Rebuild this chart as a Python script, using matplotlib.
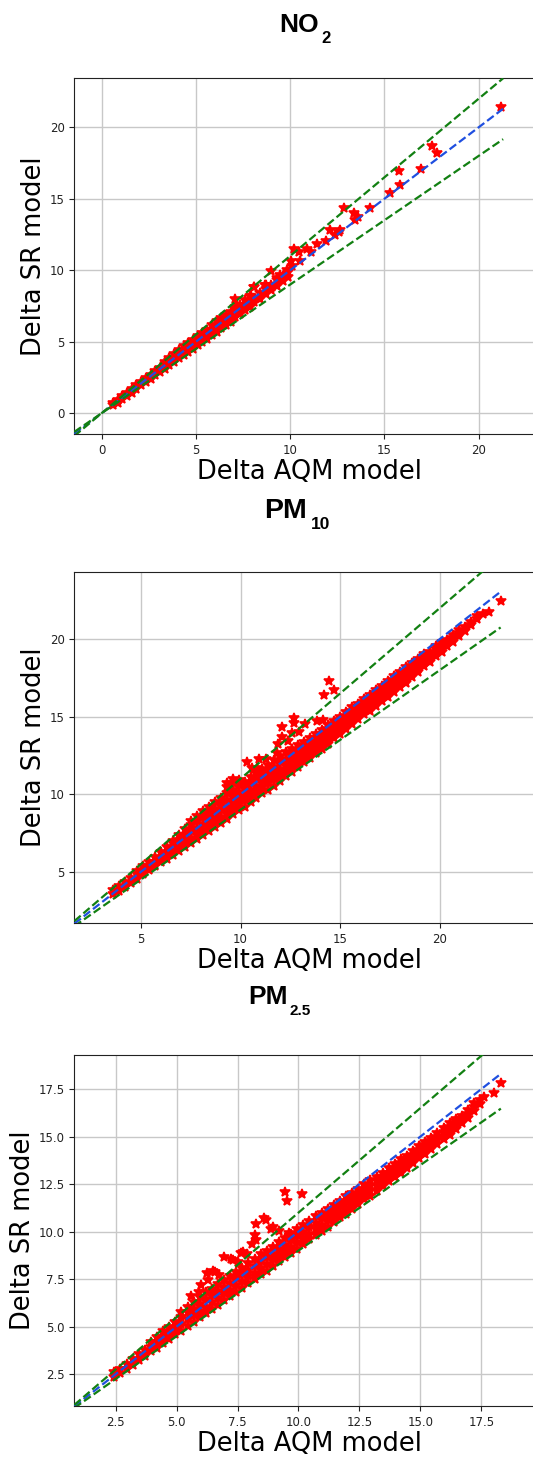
import matplotlib
matplotlib.use("Agg")
import matplotlib.pyplot as plt

# ---- data ----------------------------------------------------------------
# dense band: (Delta AQM, [Delta SR values at that AQM])
no2_band = [
    (0.6, [0.6, 0.75]), (0.85, [0.75, 0.95]), (1.1, [1.0, 1.2]), (1.35, [1.2, 1.45]),
    (1.6, [1.45, 1.7]), (1.85, [1.7, 1.95]), (2.1, [1.95, 2.2]), (2.35, [2.2, 2.45]),
    (2.6, [2.4, 2.7]), (2.85, [2.65, 2.95]), (3.1, [2.9, 3.2]), (3.35, [3.1, 3.45, 3.6]),
    (3.6, [3.35, 3.7, 3.9]), (3.85, [3.6, 3.9, 4.15]), (4.1, [3.85, 4.15, 4.4]),
    (4.35, [4.05, 4.4, 4.7]), (4.6, [4.3, 4.65, 4.9]), (4.85, [4.5, 4.85, 5.15]),
    (5.1, [4.75, 5.1, 5.4]), (5.35, [4.95, 5.3, 5.6]), (5.6, [5.2, 5.55, 5.85]),
    (5.85, [5.45, 5.8, 6.15]), (6.1, [5.7, 6.05, 6.45]), (6.35, [5.95, 6.3, 6.65]),
    (6.6, [6.2, 6.55, 6.9]), (6.85, [6.4, 6.8, 7.1]), (7.1, [6.7, 7.05, 7.4, 8.0]),
    (7.35, [6.95, 7.3, 7.6]), (7.6, [7.2, 7.55, 7.9]), (7.85, [7.45, 7.8, 8.2]),
    (8.1, [7.75, 8.05, 8.85]), (8.4, [8.0, 8.4]), (8.7, [8.35, 8.7, 8.95]),
    (9.0, [8.65, 8.95]), (9.3, [8.9, 9.3, 9.45]), (9.6, [9.25, 9.6]), (9.9, [9.55, 9.85]),
]
no2_extra_x = [21.2, 17.51, 17.79, 16.96, 15.78, 15.85, 15.32, 14.26, 12.88, 13.37, 13.62,
               13.46, 12.65, 12.1, 12.36, 12.6, 11.89, 11.41, 10.91, 10.22, 10.49, 11.09,
               10.52, 10.05, 10.08, 9.82, 8.97, 9.46, 7.92, 8.1, 8.67, 9.03, 9.4]
no2_extra_y = [21.4, 18.71, 18.22, 17.1, 16.92, 15.97, 15.41, 14.38, 14.36, 14.0, 13.73,
               13.5, 12.84, 12.84, 12.45, 12.7, 12.03, 11.86, 11.51, 11.47, 11.28, 11.28,
               10.63, 10.67, 10.28, 10.04, 9.97, 9.69, 8.22, 8.85, 8.97, 8.81, 9.32]

pm10_band = [
    (3.6, [3.55, 3.8]), (3.9, [3.75, 4.05]), (4.2, [4.0, 4.35]), (4.5, [4.3, 4.6]),
    (4.8, [4.55, 4.85, 5.05]), (5.1, [4.85, 5.1, 5.35]), (5.4, [5.1, 5.4, 5.65]),
    (5.7, [5.35, 5.65, 5.95]), (6.0, [5.6, 5.9, 6.25]), (6.3, [5.85, 6.2, 6.6]),
    (6.6, [6.1, 6.45, 6.85, 7.0]), (6.9, [6.35, 6.7, 7.05, 7.35]),
    (7.2, [6.6, 6.95, 7.35, 7.75]), (7.5, [6.85, 7.2, 7.6, 8.0, 8.3]),
    (7.8, [7.1, 7.45, 7.85, 8.25, 8.6]), (8.1, [7.35, 7.7, 8.1, 8.5, 8.9]),
    (8.4, [7.6, 8.0, 8.4, 8.8, 9.2]), (8.7, [7.9, 8.25, 8.65, 9.05, 9.5]),
    (9.0, [8.15, 8.55, 8.95, 9.35, 9.75]), (9.3, [8.4, 8.8, 9.2, 9.6, 10.1, 10.45]),
    (9.6, [8.7, 9.1, 9.5, 9.9, 10.3, 10.75]), (9.9, [8.95, 9.35, 9.75, 10.15, 10.6, 10.9]),
    (10.2, [9.2, 9.6, 10.0, 10.4, 10.8]), (10.5, [9.5, 9.9, 10.3, 10.7, 11.1]),
    (10.8, [9.75, 10.15, 10.55, 10.95, 11.35]), (11.1, [10.05, 10.45, 10.85, 11.25, 11.6]),
    (11.4, [10.3, 10.7, 11.1, 11.5, 11.9]), (11.7, [10.55, 10.95, 11.35, 11.75, 12.2]),
    (12.0, [10.85, 11.25, 11.65, 12.05, 12.45]), (12.3, [11.15, 11.5, 11.9, 12.3, 12.7]),
    (12.6, [11.45, 11.8, 12.2, 12.55, 12.95]), (12.9, [11.75, 12.1, 12.45, 12.8, 13.2]),
    (13.2, [12.05, 12.4, 12.75, 13.05, 13.4]), (13.5, [12.35, 12.7, 13.0, 13.35, 13.65]),
    (13.8, [12.65, 13.0, 13.3, 13.6, 13.9]), (14.1, [12.95, 13.3, 13.6, 13.9, 14.15]),
    (14.4, [13.25, 13.6, 13.9, 14.2, 14.45]), (14.7, [13.6, 13.9, 14.2, 14.5, 14.75]),
    (15.0, [13.9, 14.2, 14.5, 14.8, 15.0]), (15.3, [14.2, 14.5, 14.8, 15.05, 15.3]),
    (15.6, [14.5, 14.8, 15.1, 15.35, 15.6]), (15.9, [14.85, 15.1, 15.4, 15.65, 15.85]),
    (16.2, [15.15, 15.4, 15.7, 15.95, 16.15]), (16.5, [15.4, 15.7, 15.95, 16.2, 16.4]),
    (16.8, [15.7, 16.0, 16.25, 16.5, 16.7]), (17.1, [16.0, 16.3, 16.55, 16.8, 17.0]),
    (17.4, [16.3, 16.55, 16.85, 17.1, 17.3]), (17.7, [16.6, 16.85, 17.15, 17.4, 17.6]),
    (18.0, [16.9, 17.15, 17.45, 17.7, 17.9]), (18.3, [17.2, 17.45, 17.7, 17.95, 18.2]),
    (18.6, [17.55, 17.8, 18.05, 18.3, 18.45]), (18.9, [17.9, 18.1, 18.35, 18.6, 18.75]),
    (19.2, [18.25, 18.45, 18.7, 18.9, 19.05]), (19.5, [18.55, 18.8, 19.0, 19.2]),
    (19.8, [18.9, 19.1, 19.35, 19.55]), (20.1, [19.2, 19.45, 19.65, 19.85]),
    (20.4, [19.55, 19.75, 19.95]), (20.7, [19.85, 20.1, 20.3]), (21.0, [20.2, 20.4, 20.6]),
    (21.3, [20.55, 20.8]), (21.6, [20.9, 21.1]), (21.9, [21.3, 21.5]),
    (22.2, [21.65]), (22.5, [21.75]), (23.07, [22.5]),
]
pm10_extra_x = [14.46, 14.69, 14.21, 12.7, 12.68, 12.07, 12.57, 12.95, 12.1, 13.24, 13.82,
                14.16, 11.86, 12.4, 10.31, 10.94, 10.6, 11.81, 10.81, 9.6, 9.3, 11.3]
pm10_extra_y = [17.31, 16.75, 16.41, 14.94, 14.62, 14.34, 13.94, 14.04, 13.72, 14.52, 14.73,
                14.77, 13.23, 13.44, 12.1, 12.26, 11.7, 12.68, 11.68, 11.0, 10.7, 12.3]

pm25_band = [
    (2.45, [2.35, 2.6]), (2.7, [2.55, 2.8]), (2.95, [2.8, 3.05]), (3.2, [3.0, 3.3]),
    (3.45, [3.25, 3.55]), (3.7, [3.45, 3.8]), (3.95, [3.7, 3.95, 4.2]),
    (4.2, [3.9, 4.2, 4.45]), (4.45, [4.15, 4.45, 4.75]), (4.7, [4.35, 4.65, 5.0]),
    (4.95, [4.6, 4.9, 5.25]), (5.2, [4.8, 5.15, 5.5, 5.8]), (5.45, [5.05, 5.4, 5.75, 6.05]),
    (5.7, [5.25, 5.6, 5.95, 6.3]), (5.95, [5.5, 5.85, 6.2, 6.55]), (6.2, [5.7, 6.05, 6.45, 6.8]),
    (6.45, [5.95, 6.3, 6.65, 7.0]), (6.7, [6.15, 6.5, 6.9, 7.25]), (6.95, [6.4, 6.75, 7.1, 7.45]),
    (7.2, [6.6, 6.95, 7.3, 7.65]), (7.45, [6.85, 7.2, 7.55, 7.9]), (7.7, [7.05, 7.4, 7.75, 8.1]),
    (7.95, [7.3, 7.65, 8.0, 8.35]), (8.2, [7.5, 7.85, 8.2, 8.55]), (8.45, [7.75, 8.1, 8.45, 8.8]),
    (8.7, [7.95, 8.3, 8.65, 9.0]), (8.95, [8.2, 8.55, 8.85, 9.2]), (9.2, [8.45, 8.75, 9.1, 9.45]),
    (9.45, [8.65, 9.0, 9.3, 9.65]), (9.7, [8.9, 9.2, 9.55, 9.9]), (9.95, [9.1, 9.45, 9.8, 10.15]),
    (10.2, [9.35, 9.65, 10.0, 10.35]), (10.45, [9.6, 9.9, 10.25, 10.55]),
    (10.7, [9.8, 10.15, 10.45, 10.8]), (10.95, [10.05, 10.35, 10.7, 11.0]),
    (11.2, [10.25, 10.6, 10.9, 11.2]), (11.45, [10.5, 10.8, 11.1, 11.4]),
    (11.7, [10.75, 11.05, 11.35, 11.6]), (11.95, [10.95, 11.25, 11.55, 11.85]),
    (12.2, [11.2, 11.5, 11.8, 12.05]), (12.45, [11.45, 11.75, 12.0, 12.25]),
    (12.7, [11.7, 11.95, 12.2, 12.5]), (12.95, [11.9, 12.2, 12.45, 12.7]),
    (13.2, [12.15, 12.4, 12.65, 12.9]), (13.45, [12.4, 12.65, 12.9, 13.1]),
    (13.7, [12.65, 12.9, 13.1, 13.35]), (13.95, [12.85, 13.1, 13.35, 13.55]),
    (14.2, [13.1, 13.35, 13.6, 13.8]), (14.45, [13.35, 13.6, 13.8, 14.0]),
    (14.7, [13.6, 13.85, 14.05, 14.25]), (14.95, [13.85, 14.1, 14.3, 14.5]),
    (15.2, [14.1, 14.3, 14.55, 14.7]), (15.45, [14.35, 14.55, 14.75, 14.95]),
    (15.7, [14.6, 14.8, 15.0, 15.2]), (15.95, [14.85, 15.05, 15.25, 15.45]),
    (16.2, [15.1, 15.3, 15.5, 15.7]), (16.45, [15.4, 15.6, 15.8, 15.95]),
    (16.7, [15.7, 15.9, 16.1]), (16.95, [16.0, 16.2, 16.4]), (17.2, [16.35, 16.55, 16.75]),
    (17.45, [16.7, 16.9]), (17.6, [17.1]), (18.0, [17.3]), (18.31, [17.8]),
]
pm25_extra_x = [9.45, 9.54, 10.13, 8.6, 8.65, 8.25, 8.86, 8.96, 8.22, 8.08, 8.25, 7.74, 7.66,
                7.32, 6.93, 7.24, 6.56, 6.5, 6.76, 6.29, 6.24, 6.02, 5.9, 9.2, 9.6, 9.9, 7.9,
                7.5, 5.6]
pm25_extra_y = [12.1, 11.63, 12.0, 10.7, 10.6, 10.39, 10.12, 10.26, 9.84, 9.33, 9.56, 8.91, 8.89,
                8.51, 8.65, 8.57, 7.9, 7.93, 7.72, 7.48, 7.8, 7.2, 6.85, 10.05, 9.95, 9.9, 8.8,
                8.4, 6.6]

# axis limits and 1:1 line extent
no2_xlim, no2_ylim, no2_line = (-1.44, 23.52), (-1.45, 23.45), (-1.45, 21.3)
pm10_xlim, pm10_ylim, pm10_line = (1.65, 25.30), (1.67, 24.36), (1.65, 23.07)
pm25_xlim, pm25_ylim, pm25_line = (0.81, 20.11), (0.83, 19.29), (0.81, 18.3)

W, H = 533, 1457
fig = plt.figure(figsize=(W / 100, H / 100), dpi=100)


def flat(band, ex_x, ex_y):
    xs = [c[0] for c in band for _ in c[1]] + ex_x
    ys = [v for c in band for v in c[1]] + ex_y
    return xs, ys


def panel(rect, band, ex_x, ex_y, xlim, ylim, line, xticks, yticks):
    ax = fig.add_axes(rect)
    xs, ys = flat(band, ex_x, ex_y)
    ax.plot(xs, ys, '*', color='#ff0000', markersize=7, markeredgewidth=1.2, zorder=3)
    lx = list(line)
    ax.plot(lx, lx, '--', color='#1f4fe0', linewidth=1.6, zorder=4)
    ax.plot(lx, [v * 1.1 for v in lx], '--', color='#128012', linewidth=1.6, zorder=4)
    ax.plot(lx, [v * 0.9 for v in lx], '--', color='#128012', linewidth=1.6, zorder=4)
    ax.set_xlim(xlim)
    ax.set_ylim(ylim)
    ax.set_xticks(xticks)
    ax.set_yticks(yticks)
    ax.grid(True, color='#c8c8c8', linewidth=1.0)
    ax.set_axisbelow(True)
    ax.tick_params(labelsize=8.5, colors='#222222')
    for s in ax.spines.values():
        s.set_color('#222222')
    ax.set_xlabel('Delta AQM model', fontsize=18.5, labelpad=1.5)
    ax.set_ylabel('Delta SR model', fontsize=18.5, labelpad=2)
    return ax


L, Wd = 74.4 / W, (545 - 74.4) / W
panel([L, 1 - 434 / H, Wd, 356 / H], no2_band, no2_extra_x, no2_extra_y,
      no2_xlim, no2_ylim, no2_line, [0, 5, 10, 15, 20], [0, 5, 10, 15, 20])
panel([L, 1 - 923.3 / H, Wd, 351.6 / H], pm10_band, pm10_extra_x, pm10_extra_y,
      pm10_xlim, pm10_ylim, pm10_line, [5, 10, 15, 20], [5, 10, 15, 20])
panel([L, 1 - 1406 / H, Wd, 351 / H], pm25_band, pm25_extra_x, pm25_extra_y,
      pm25_xlim, pm25_ylim, pm25_line,
      [2.5, 5.0, 7.5, 10.0, 12.5, 15.0, 17.5], [2.5, 5.0, 7.5, 10.0, 12.5, 15.0, 17.5])


def title(main, sub, x, base, xs, sbase, size, ssize):
    kw = dict(family='Liberation Sans', weight='bold', va='baseline', ha='left')
    fig.text(x / W, 1 - base / H, main, fontsize=size, **kw)
    fig.text(xs / W, 1 - sbase / H, sub, fontsize=ssize, **kw)


title('NO', '2', 279.7, 32.3, 321, 43.3, 19, 12)
title('PM', '10', 264.4, 518.3, 311, 529.3, 20.5, 12.5)
title('PM', '2.5', 248.1, 1004, 290, 1015, 19, 11)

fig.savefig('out.png', dpi=100)
